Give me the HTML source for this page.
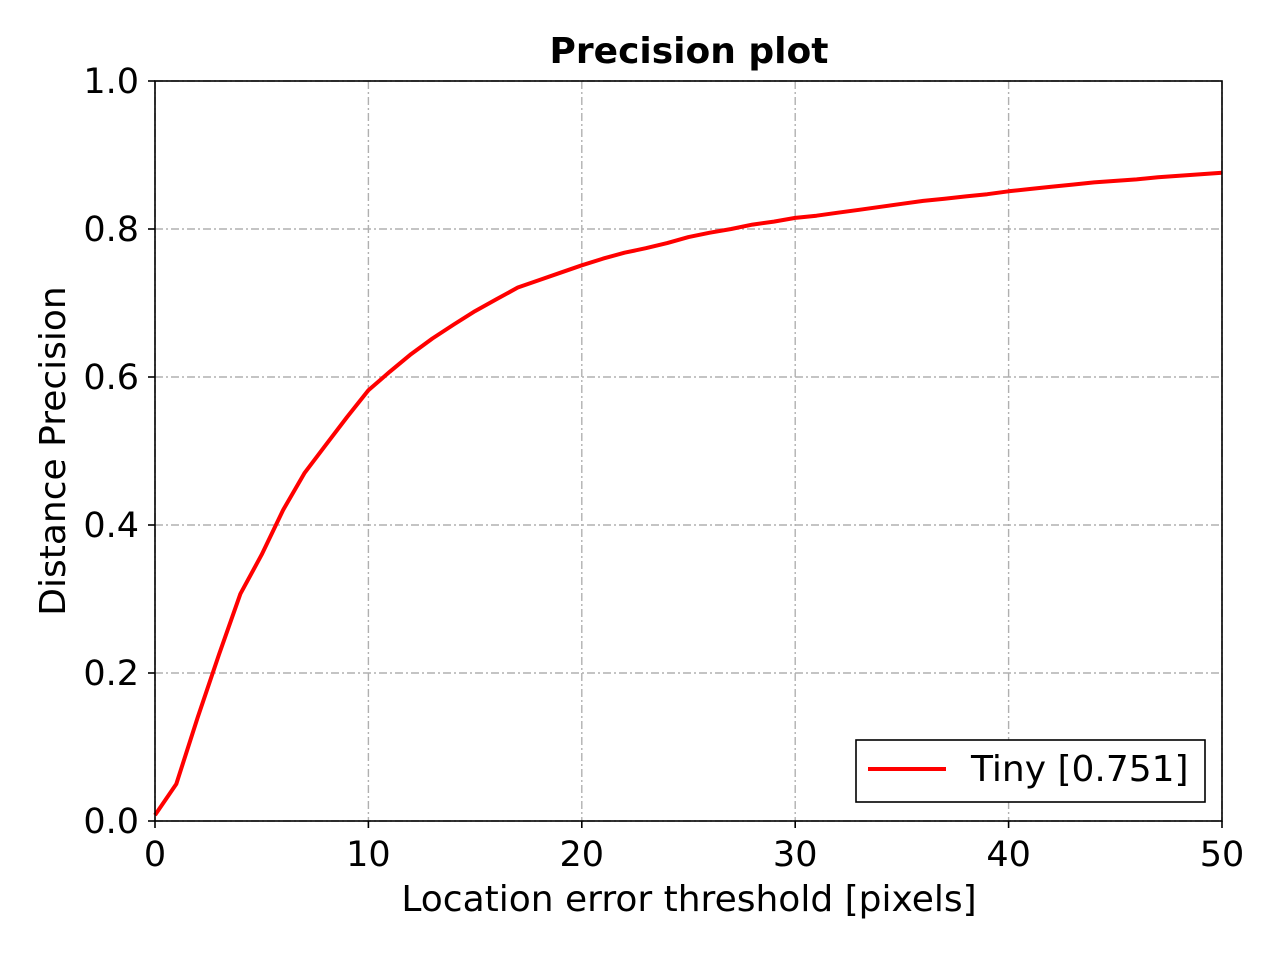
<!DOCTYPE html>
<html><head><meta charset="utf-8"><style>
body{margin:0;background:#fff;width:1280px;height:960px;overflow:hidden}
svg text{font-family:"DejaVu Sans","Liberation Sans",sans-serif;fill:#000}
</style></head><body>
<svg id="chart" width="1280" height="960">
<rect width="1280" height="960" fill="#fff"/>
<text x="689" y="63" font-size="36" font-weight="bold" text-anchor="middle">Precision plot</text>
<text x="689" y="911" font-size="36" text-anchor="middle">Location error threshold [pixels]</text>
<text transform="translate(65,451) rotate(-90)" font-size="36" text-anchor="middle">Distance Precision</text>
<g id="grid"></g><g id="ticks"></g>
<path id="curve" fill="none" stroke="#ff0000" stroke-width="4" stroke-linejoin="round"/>
<rect x="155" y="81" width="1067" height="740" fill="none" stroke="#000" stroke-width="1.6"/>
<g>
<rect x="856" y="740" width="349" height="62" fill="#fff" stroke="#000" stroke-width="1.6"/>
<line x1="868" y1="769" x2="946" y2="769" stroke="#ff0000" stroke-width="4"/>
<text x="971" y="781" font-size="36">Tiny [0.751]</text>
</g>
</svg>
<script>
const thresholds=[0,1,2,3,4,5,6,7,8,9,10,11,12,13,14,15,16,17,18,19,20,21,22,23,24,25,26,27,28,29,30,31,32,33,34,35,36,37,38,39,40,41,42,43,44,45,46,47,48,49,50];
const precision=[0.008,0.05,0.14,0.225,0.307,0.36,0.42,0.47,0.508,0.546,0.582,0.607,0.631,0.652,0.671,0.689,0.705,0.721,0.731,0.741,0.751,0.760,0.768,0.774,0.781,0.789,0.795,0.800,0.806,0.810,0.815,0.818,0.822,0.826,0.830,0.834,0.838,0.841,0.844,0.847,0.851,0.854,0.857,0.860,0.863,0.865,0.867,0.870,0.872,0.874,0.876];
const xTicks=[0,10,20,30,40,50];
const yTicks=[0,0.2,0.4,0.6,0.8,1.0];
const yTickLabels=["0.0","0.2","0.4","0.6","0.8","1.0"];
const X=v=>155+v/50*1067, Y=v=>821-v*740;
const NS="http://www.w3.org/2000/svg";
const grid=document.getElementById('grid'), ticks=document.getElementById('ticks');
function mk(t,a,p){const e=document.createElementNS(NS,t);for(const k in a)e.setAttribute(k,a[k]);p.appendChild(e);return e;}
xTicks.forEach(v=>{
 const gl=mk('line',{x1:X(v),x2:X(v),y1:81,y2:821,stroke:'#b0b0b0','stroke-width':1.4,'stroke-dasharray':'8,3,2,3'},grid);
 
 
 mk('line',{x1:X(v),x2:X(v),y1:821,y2:828,stroke:'#000','stroke-width':1.6},ticks);
 const t=mk('text',{x:X(v),y:866,'font-size':35,'text-anchor':'middle'},ticks);t.textContent=v;
 
 
});
yTicks.forEach((v,i)=>{
 const gl=mk('line',{x1:155,x2:1222,y1:Y(v),y2:Y(v),stroke:'#b0b0b0','stroke-width':1.4,'stroke-dasharray':'8,3,2,3'},grid);
 
 
 mk('line',{x1:148,x2:155,y1:Y(v),y2:Y(v),stroke:'#000','stroke-width':1.6},ticks);
 const t=mk('text',{x:139,y:Y(v)+12,'font-size':35,'text-anchor':'end'},ticks);t.textContent=yTickLabels[i];
 
 
});
document.getElementById('curve').setAttribute('d',thresholds.map((t,i)=>(i?'L':'M')+X(t).toFixed(1)+','+Y(precision[i]).toFixed(1)).join(' '));
</script>
</body></html>
